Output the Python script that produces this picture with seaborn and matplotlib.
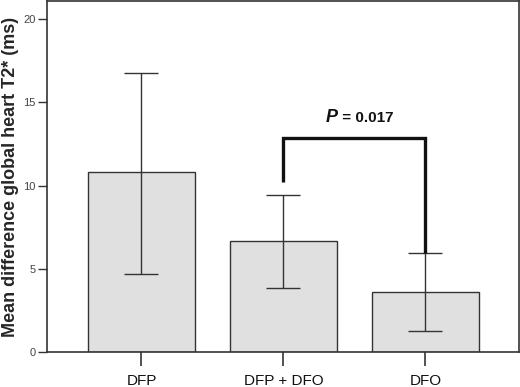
import pandas as pd
import seaborn as sns
import matplotlib.pyplot as plt

# values
groups = ["DFP", "DFP + DFO", "DFO"]
means = [10.8, 6.65, 3.6]
err_upper = [16.75, 9.42, 5.95]
err_lower = [4.7, 3.83, 1.25]

# significance bracket between DFP + DFO and DFO
bracket_y = 12.85
bracket_left_end = 10.2
bracket_right_end = 5.95
p_text = "0.017"

sns.set_style("ticks")
plt.rcParams["font.family"] = ["Liberation Sans", "DejaVu Sans"]

df = pd.DataFrame({"group": groups, "mean": means})

fig = plt.figure(figsize=(5.2, 3.87), dpi=100)
ax = fig.add_axes([0.0904, 0.0904, 0.908, 0.907])

sns.barplot(data=df, x="group", y="mean", color="#e0e0e0", width=0.75,
            edgecolor="#333333", linewidth=1.0, saturation=1, ax=ax)

xs = list(range(len(groups)))
yerr = [[m - lo for m, lo in zip(means, err_lower)],
        [hi - m for m, hi in zip(means, err_upper)]]
ax.errorbar(xs, means, yerr=yerr, fmt="none", ecolor="#333333",
            elinewidth=1.0, capsize=12, capthick=1.0, zorder=3)

# bracket
ax.plot([1, 1, 2, 2], [bracket_left_end, bracket_y, bracket_y, bracket_right_end],
        color="#111111", lw=2.4, solid_capstyle="butt", solid_joinstyle="miter", zorder=4)
ax.text(1.38, bracket_y + 0.95, "P", ha="right", va="baseline",
        fontsize=13, fontweight="bold", fontstyle="italic", color="#111111")
ax.text(1.385, bracket_y + 0.95, " = " + p_text, ha="left", va="baseline",
        fontsize=11, fontweight="bold", color="#111111")

ax.set_xlim(-0.665, 2.66)
ax.set_ylim(0, 21.1)
ax.set_yticks([0, 5, 10, 15, 20])
ax.set_xlabel("")
ax.set_ylabel("Mean difference global heart T2* (ms)", fontsize=13,
              fontweight="bold", labelpad=3)

for sp in ax.spines.values():
    sp.set_color("#333333")
    sp.set_linewidth(1.2)

ax.tick_params(axis="y", labelsize=8, colors="#333333", length=6.5, width=1,
               labelcolor="#444444", pad=1.5)
ax.tick_params(axis="x", labelsize=11, length=10, width=1.2, colors="#333333",
               labelcolor="#111111", pad=6)

fig.savefig("out.png", dpi=100)
